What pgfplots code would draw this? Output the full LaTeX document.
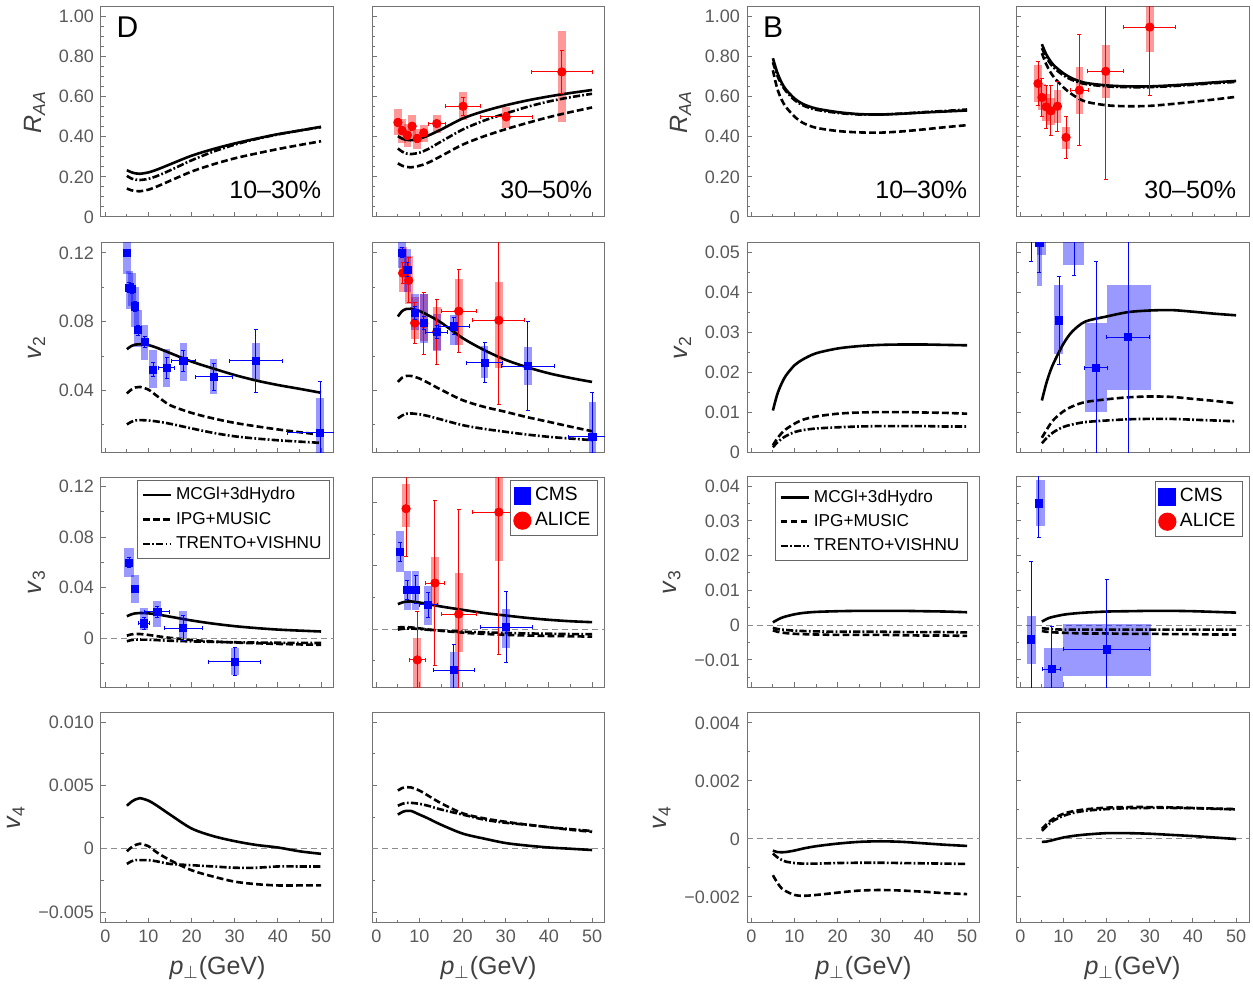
\documentclass[border=0pt]{standalone}
\usepackage{fontspec}
\setmainfont{Liberation Sans}
\usepackage{pgfplots}
\usepackage{pgfplotstable}
\pgfplotsset{compat=1.18}

\newcommand{\ticfont}{\fontsize{9}{10}\selectfont}
\newcommand{\labfont}{\fontsize{12.5}{14}\selectfont}
\newcommand{\annfont}{\fontsize{12.5}{14}\selectfont}
\newcommand{\tagfont}{\fontsize{15}{17}\selectfont}
\newcommand{\legfont}{\fontsize{8.6}{10}\selectfont}
\newcommand{\datlegfont}{\fontsize{9.6}{11}\selectfont}

% model curves: columns s = MCGl+3dHydro, d = IPG+MUSIC, c = TRENTO+VISHNU
\pgfplotstableread{
pt s d c
5 0.233 0.142 0.205
6 0.223 0.133 0.192
7 0.217 0.129 0.186
8 0.215 0.128 0.184
10 0.222 0.136 0.190
12 0.236 0.152 0.204
15 0.262 0.180 0.232
20 0.305 0.226 0.282
25 0.338 0.262 0.325
30 0.366 0.292 0.360
35 0.390 0.316 0.388
40 0.412 0.338 0.411
45 0.430 0.358 0.430
50 0.449 0.377 0.447
}\tRaaDa
\pgfplotstableread{
pt s d c
5 0.402 0.267 0.341
6 0.390 0.255 0.325
7 0.384 0.249 0.316
8 0.382 0.247 0.313
10 0.390 0.255 0.320
12 0.405 0.270 0.338
15 0.435 0.303 0.375
20 0.490 0.360 0.435
25 0.527 0.402 0.480
30 0.556 0.437 0.515
35 0.580 0.468 0.548
40 0.600 0.497 0.575
45 0.617 0.522 0.596
50 0.632 0.545 0.613
}\tRaaDb
\pgfplotstableread{
pt s d c
5 0.790 0.730 0.770
6 0.720 0.640 0.705
7 0.670 0.585 0.660
8 0.635 0.548 0.627
10 0.590 0.500 0.582
12 0.562 0.468 0.555
15 0.540 0.444 0.534
20 0.522 0.428 0.518
25 0.512 0.421 0.510
30 0.510 0.420 0.510
35 0.514 0.426 0.515
40 0.520 0.436 0.522
45 0.525 0.447 0.528
50 0.530 0.457 0.535
}\tRaaBa
\pgfplotstableread{
pt s d c
5 0.860 0.815 0.840
6 0.810 0.760 0.795
7 0.775 0.720 0.762
8 0.750 0.690 0.738
10 0.715 0.645 0.705
12 0.690 0.610 0.682
15 0.668 0.575 0.662
20 0.655 0.556 0.650
25 0.650 0.551 0.646
30 0.650 0.553 0.646
35 0.655 0.562 0.651
40 0.662 0.573 0.658
45 0.670 0.585 0.666
50 0.677 0.598 0.672
}\tRaaBb
\pgfplotstableread{
pt s d c
5 0.0640 0.0383 0.0203
6 0.0658 0.0405 0.0218
7 0.0667 0.0418 0.0226
8 0.0669 0.0421 0.0228
10 0.0664 0.0405 0.0226
12 0.0648 0.0368 0.0220
15 0.0618 0.0315 0.0207
20 0.0568 0.0270 0.0180
25 0.0528 0.0238 0.0154
30 0.0490 0.0212 0.0134
35 0.0458 0.0192 0.0121
40 0.0432 0.0174 0.0111
45 0.0410 0.0158 0.0103
50 0.0387 0.0143 0.0096
}\tVtwoDa
\pgfplotstableread{
pt s d c
5 0.0830 0.0450 0.0238
6 0.0862 0.0475 0.0255
7 0.0874 0.0485 0.0265
8 0.0875 0.0485 0.0267
10 0.0862 0.0470 0.0262
12 0.0838 0.0445 0.0252
15 0.0795 0.0405 0.0232
20 0.0705 0.0344 0.0199
25 0.0635 0.0305 0.0177
30 0.0578 0.0276 0.0160
35 0.0535 0.0245 0.0144
40 0.0500 0.0218 0.0131
45 0.0473 0.0190 0.0121
50 0.0450 0.0164 0.0112
}\tVtwoDb
\pgfplotstableread{
pt s d c
5 0.0105 0.0018 0.0013
6 0.0145 0.0035 0.0025
7 0.0172 0.0048 0.0034
8 0.0192 0.0058 0.0041
10 0.0218 0.0072 0.0051
12 0.0233 0.0082 0.0056
15 0.0248 0.0090 0.0060
20 0.0260 0.0097 0.0063
25 0.0266 0.0100 0.0065
30 0.0269 0.0101 0.0066
35 0.0270 0.0101 0.0066
40 0.0270 0.0100 0.0066
45 0.0269 0.0099 0.0065
50 0.0268 0.0097 0.0065
}\tVtwoBa
\pgfplotstableread{
pt s d c
5 0.0130 0.0037 0.0023
6 0.0172 0.0055 0.0035
7 0.0205 0.0072 0.0045
8 0.0230 0.0085 0.0053
10 0.0272 0.0103 0.0064
12 0.0302 0.0115 0.0070
15 0.0327 0.0126 0.0076
20 0.0340 0.0133 0.0080
25 0.0351 0.0138 0.0083
30 0.0355 0.0140 0.0084
35 0.0356 0.0139 0.0084
40 0.0352 0.0134 0.0082
45 0.0347 0.0129 0.0080
50 0.0343 0.0123 0.0078
}\tVtwoBb
\pgfplotstableread{
pt s d c
5 0.0175 0.0022 -0.0022
6 0.0190 0.0032 -0.0013
7 0.0198 0.0036 -0.0009
8 0.0201 0.0035 -0.0008
10 0.0198 0.0028 -0.0010
12 0.0190 0.0018 -0.0013
15 0.0172 0.0005 -0.0018
20 0.0142 -0.0012 -0.0023
25 0.0117 -0.0024 -0.0027
30 0.0097 -0.0032 -0.0030
35 0.0082 -0.0038 -0.0032
40 0.0070 -0.0043 -0.0034
45 0.0062 -0.0047 -0.0035
50 0.0055 -0.0050 -0.0036
}\tVthreeDa
\pgfplotstableread{
pt s d c
5 0.0158 0.0010 -0.0003
6 0.0168 0.0013 0.0002
7 0.0174 0.0013 0.0004
8 0.0175 0.0011 0.0004
10 0.0168 0.0005 0.0001
12 0.0158 -0.0002 -0.0004
15 0.0143 -0.0010 -0.0010
20 0.0122 -0.0022 -0.0016
25 0.0102 -0.0030 -0.0020
30 0.0086 -0.0036 -0.0024
35 0.0071 -0.0040 -0.0027
40 0.0059 -0.0043 -0.0029
45 0.0050 -0.0045 -0.0031
50 0.0044 -0.0047 -0.0032
}\tVthreeDb
\pgfplotstableread{
pt s d c
5 0.0008 -0.0015 -0.0008
6 0.0015 -0.0019 -0.0011
7 0.0021 -0.0021 -0.0013
8 0.0025 -0.0023 -0.0014
10 0.0031 -0.0025 -0.0016
12 0.0035 -0.0026 -0.0017
15 0.0038 -0.0027 -0.0018
20 0.0040 -0.0028 -0.0019
25 0.0041 -0.0028 -0.0019
30 0.0041 -0.0028 -0.0019
35 0.0041 -0.0029 -0.0020
40 0.0040 -0.0030 -0.0020
45 0.0039 -0.0030 -0.0020
50 0.0037 -0.0031 -0.0021
}\tVthreeBa
\pgfplotstableread{
pt s d c
5 0.0010 -0.0017 -0.0009
6 0.0017 -0.0019 -0.0010
7 0.0022 -0.0020 -0.0011
8 0.0025 -0.0021 -0.0012
10 0.0030 -0.0022 -0.0013
12 0.0033 -0.0023 -0.0013
15 0.0036 -0.0024 -0.0013
20 0.0039 -0.0024 -0.0013
25 0.0040 -0.0025 -0.0013
30 0.0041 -0.0025 -0.0013
35 0.0041 -0.0026 -0.0013
40 0.0040 -0.0026 -0.0013
45 0.0038 -0.0027 -0.0013
50 0.0036 -0.0027 -0.0013
}\tVthreeBb
\pgfplotstableread{
pt s d c
5 0.0034 -0.0002 -0.0012
6 0.0037 0.0001 -0.0010
7 0.0039 0.0003 -0.0009
8 0.0040 0.0004 -0.0009
10 0.0038 0.0002 -0.0009
12 0.0034 -0.0003 -0.0010
15 0.0027 -0.0009 -0.0012
20 0.0016 -0.0017 -0.0013
25 0.0010 -0.0022 -0.0014
30 0.0006 -0.0026 -0.0015
35 0.0003 -0.0028 -0.0015
40 0.0001 -0.0029 -0.0014
45 -0.0002 -0.0029 -0.0014
50 -0.0004 -0.0029 -0.0014
}\tVfourDa
\pgfplotstableread{
pt s d c
5 0.0027 0.0046 0.0034
6 0.0029 0.0048 0.00355
7 0.0030 0.00487 0.00362
8 0.0030 0.00485 0.00363
10 0.0027 0.0046 0.00355
12 0.0024 0.0042 0.0034
15 0.0019 0.0036 0.0031
20 0.0012 0.0028 0.0027
25 0.0008 0.0024 0.0023
30 0.00045 0.00213 0.00205
35 0.00025 0.0019 0.0019
40 0.0001 0.0017 0.0017
45 0.0000 0.0015 0.00155
50 -0.0001 0.00134 0.0014
}\tVfourDb
\pgfplotstableread{
pt s d c
5 -0.00040 -0.00125 -0.00050
6 -0.00045 -0.00150 -0.00063
7 -0.00046 -0.00170 -0.00072
8 -0.00045 -0.00180 -0.00078
10 -0.00040 -0.00193 -0.00083
12 -0.00033 -0.00196 -0.00085
15 -0.00025 -0.00193 -0.00085
20 -0.00016 -0.00185 -0.00083
25 -0.00010 -0.00178 -0.00082
30 -0.00008 -0.00176 -0.00082
35 -0.00010 -0.00178 -0.00083
40 -0.00015 -0.00182 -0.00084
45 -0.00020 -0.00187 -0.00085
50 -0.00024 -0.00190 -0.00086
}\tVfourBa
\pgfplotstableread{
pt s d c
5 -0.00010 0.00035 0.00028
6 -0.00009 0.00050 0.00043
7 -0.00006 0.00063 0.00056
8 -0.00002 0.00073 0.00066
10 0.00005 0.00087 0.00080
12 0.00010 0.00095 0.00089
15 0.00015 0.00102 0.00097
20 0.00020 0.00108 0.00103
25 0.00020 0.00110 0.00106
30 0.00018 0.00110 0.00107
35 0.00014 0.00109 0.00107
40 0.00010 0.00107 0.00106
45 0.00005 0.00105 0.00104
50 0.00000 0.00103 0.00102
}\tVfourBb

% measurements: x, y, x error, statistical y error
\pgfplotstableread{
x y ex ey
5.0 0.470 0 0.020
6.0 0.429 0 0.020
7.2 0.407 0 0.020
8.3 0.452 0 0.020
9.5 0.391 0 0.020
11.0 0.419 0 0.015
14.0 0.465 2.0 0.015
20.1 0.551 4.0 0.044
30.1 0.498 6.0 0.020
43.0 0.722 7.0 0.105
}\aRaaDb
\pgfplotstableread{
x y ex ey
4.1 0.664 0 0.110
5.0 0.595 0 0.094
6.0 0.548 0 0.107
7.1 0.528 0 0.124
8.6 0.551 0 0.124
10.6 0.396 0 0.105
13.7 0.631 2.1 0.275
19.8 0.725 4.2 0.540
30.0 0.945 6.0 0.340
}\aRaaBb
\pgfplotstableread{
x y ex ey
4.97 0.1200 0 0.0020
5.6 0.0997 0 0.0030
6.2 0.0991 0 0.0030
6.8 0.0889 0 0.0030
7.6 0.0750 0 0.0030
9.1 0.0682 0 0.0030
11.1 0.0522 0 0.0040
14.2 0.0531 1.8 0.0060
18.1 0.0572 2.7 0.0060
25.1 0.0479 4.3 0.0080
34.9 0.0572 6.2 0.0183
49.8 0.0154 7.5 0.0300
}\cVtwoDa
\pgfplotstableread{
x y ex ey
6.0 0.1200 0 0.0030
7.2 0.1101 0 0.0040
8.9 0.0850 0 0.0040
11.0 0.0792 0 0.0040
14.0 0.0740 2.6 0.0040
18.0 0.0773 3.6 0.0050
25.1 0.0562 4.2 0.0116
35.1 0.0541 6.2 0.0258
50.1 0.0131 5.5 0.0260
}\cVtwoDb
\pgfplotstableread{
x y ex ey
6.1 0.1082 0 0.0060
7.5 0.1040 0 0.0130
8.9 0.0792 0 0.0120
11.0 0.0790 0 0.0180
14.0 0.0740 0 0.0190
19.1 0.0861 4.1 0.0240
28.4 0.0808 6.0 0.0490
}\aVtwoDb
\pgfplotstableread{
x y ex ey
2.5 0.0600 0 0.0122
4.4 0.0523 0 0.0074
12.5 0.0580 0 0.0137
9.0 0.0330 0 0.0110
17.55 0.0212 2.6 0.0266
25.0 0.0288 5.0 0.0600
}\cVtwoBb
\pgfplotstableread{
x y ex ey
5.5 0.0597 0 0.0040
6.9 0.0389 0 0.0030
9.0 0.0119 1.3 0.0050
12.05 0.0209 2.9 0.0040
18.05 0.0082 4.4 0.0100
29.97 -0.0182 6.0 0.0110
}\cVthreeDa
\pgfplotstableread{
x y ex ey
5.5 0.0487 0 0.0060
7.2 0.0249 0 0.0060
9.1 0.0249 0 0.0090
12.0 0.0154 2.1 0.0080
18.0 -0.0258 4.7 0.0160
30.1 0.0013 6.05 0.0225
}\cVthreeDb
\pgfplotstableread{
x y ex ey
6.9 0.0760 0 0.0300
9.5 -0.0194 1.9 0.0305
13.6 0.0291 2.15 0.0520
19.1 0.0095 4.05 0.0660
28.4 0.0738 6.2 0.0900
}\aVthreeDb
\pgfplotstableread{
x y ex ey
2.5 -0.0041 0 0.0224
4.3 0.0350 0 0.0099
7.3 -0.0127 2.1 0.0124
20.0 -0.0070 10.0 0.0200
}\cVthreeBb

% systematic band: colour, x from, x to, y from, y to
\newcommand{\sysbox}[5]{\addplot[forget plot, draw=none, fill=#1, fill opacity=0.4] coordinates {(#2,#4) (#3,#4) (#3,#5) (#2,#5)};}
% the three model curves of one panel
\newcommand{\modelcurves}[2][]{%
  \addplot[mA,#1] table[x=pt,y=s]{#2};
  \addplot[mB,#1] table[x=pt,y=d]{#2};
  \addplot[mC,#1] table[x=pt,y=c]{#2};}
\newcommand{\zeroline}{\addplot[forget plot, black!45, line width=0.5pt, dash pattern=on 3pt off 2pt] coordinates {(-1,0) (53,0)};}

\pgfplotsset{
  panel/.style={
    scale only axis, width=116.5pt, height=105pt, anchor=south west,
    xmin=-1, xmax=53,
    xtick={0,10,20,30,40,50}, minor xtick={5,15,25,35,45}, xticklabels={},
    yticklabels={},
    xtick pos=left, ytick pos=left, tick align=inside,
    major tick length=2.4pt, minor tick length=1.5pt,
    axis line style={black!55, line width=0.5pt},
    tick style={black!55, line width=0.5pt},
    scaled y ticks=false, scaled x ticks=false,
    tick label style={font=\ticfont, text=black!65},
    label style={font=\labfont, text=black!75},
    clip marker paths=true,
  },
  bottomrow/.style={xticklabels={0,10,20,30,40,50}, xlabel={\textit{p}$_{\perp}$(GeV)}},
  mA/.style={black, line width=1.3pt, smooth},
  mB/.style={black, line width=1.3pt, smooth, dash pattern=on 3.4pt off 1.6pt},
  mC/.style={black, line width=1.3pt, smooth, dash pattern=on 3.6pt off 1.1pt on 0.9pt off 1.1pt},
  cms/.style={only marks, forget plot, mark=square*, mark size=1.8pt, color=blue,
    error bars/x dir=both, error bars/x explicit, error bars/y dir=both, error bars/y explicit,
    error bars/error bar style={line width=0.5pt, blue},
    error bars/error mark options={rotate=90, mark size=1pt, line width=0.5pt, blue}},
  alice/.style={only marks, forget plot, mark=*, mark size=2.1pt, color=red,
    error bars/x dir=both, error bars/x explicit, error bars/y dir=both, error bars/y explicit,
    error bars/error bar style={line width=0.5pt, red},
    error bars/error mark options={rotate=90, mark size=1pt, line width=0.5pt, red}},
  modlegend/.style={
    legend style={at={(#1)}, anchor=north east, draw=black!60, line width=0.5pt, fill=white,
      font=\legfont, text=black, inner xsep=2pt, inner ysep=1.5pt, row sep=0.6pt, cells={anchor=west}},
    legend image code/.code={\draw[##1, line width=1.3pt] (0pt,0pt) -- (14pt,0pt);}},
  datlegend/.style={
    legend style={at={(#1)}, anchor=north east, draw=black!60, line width=0.5pt, fill=white,
      font=\datlegfont, text=black, inner xsep=1.5pt, inner ysep=1.5pt, row sep=0.3pt, cells={anchor=west}}},
  rowRaa/.style={ymin=0, ymax=1.045, ytick={0,0.2,0.4,0.6,0.8,1},
    minor ytick={0.05,0.1,0.15,0.25,0.3,0.35,0.45,0.5,0.55,0.65,0.7,0.75,0.85,0.9,0.95}},
  rowVtwoD/.style={ymin=0.004, ymax=0.126, ytick={0.04,0.08,0.12}, minor ytick={0.02,0.06,0.1}},
  rowVtwoB/.style={ymin=0, ymax=0.0525, ytick={0,0.01,0.02,0.03,0.04,0.05},
    minor ytick={0.005,0.015,0.025,0.035,0.045}},
  rowVthreeDa/.style={ymin=-0.0383, ymax=0.1274, ytick={0,0.04,0.08,0.12}, minor ytick={-0.02,0.02,0.06,0.1}},
  rowVthreeDb/.style={ymin=-0.0365, ymax=0.096, ytick={0,0.04,0.08}, minor ytick={-0.02,0.02,0.06}},
  rowVthreeB/.style={ymin=-0.0178, ymax=0.0426, ytick={-0.01,0,0.01,0.02,0.03,0.04},
    minor ytick={-0.015,-0.005,0.005,0.015,0.025,0.035}},
  rowVfourD/.style={ymin=-0.00583, ymax=0.01077, ytick={-0.005,0,0.005,0.01}, minor ytick={-0.0025,0.0025,0.0075}},
  rowVfourB/.style={ymin=-0.00288, ymax=0.00436, ytick={-0.002,0,0.002,0.004}, minor ytick={-0.001,0.001,0.003}},
}

\begin{document}
\begin{tikzpicture}

%% ---------- row 1: R_AA ----------
\begin{axis}[panel, rowRaa, at={(50.5pt,385pt)},
  yticklabels={0,0.20,0.40,0.60,0.80,1.00}, ylabel={\textit{R}\textsubscript{\textit{AA}}}]
  \modelcurves{\tRaaDa}
  \node[anchor=east, font=\annfont] at (rel axis cs:0.975,0.13) {10--30\%};
  \node[font=\tagfont] at (rel axis cs:0.114,0.905) {D};
\end{axis}

\begin{axis}[panel, rowRaa, at={(186pt,385pt)}]
  \sysbox{red}{4.1}{5.9}{0.410}{0.535}
  \sysbox{red}{5.1}{6.9}{0.370}{0.490}
  \sysbox{red}{6.3}{8.1}{0.350}{0.465}
  \sysbox{red}{7.4}{9.2}{0.395}{0.510}
  \sysbox{red}{8.6}{10.4}{0.340}{0.440}
  \sysbox{red}{10.1}{11.9}{0.375}{0.460}
  \sysbox{red}{13.1}{14.9}{0.420}{0.510}
  \sysbox{red}{19.2}{21.0}{0.482}{0.623}
  \sysbox{red}{29.2}{31.0}{0.441}{0.545}
  \sysbox{red}{42.1}{43.9}{0.473}{0.924}
  \modelcurves{\tRaaDb}
  \addplot[alice] table[x=x,y=y,x error=ex,y error=ey]{\aRaaDb};
  \node[anchor=east, font=\annfont] at (rel axis cs:0.975,0.13) {30--50\%};
\end{axis}

\begin{axis}[panel, rowRaa, at={(373.5pt,385pt)},
  yticklabels={0,0.20,0.40,0.60,0.80,1.00}, ylabel={\textit{R}\textsubscript{\textit{AA}}}]
  \modelcurves{\tRaaBa}
  \node[anchor=east, font=\annfont] at (rel axis cs:0.975,0.13) {10--30\%};
  \node[font=\tagfont] at (rel axis cs:0.112,0.905) {B};
\end{axis}

\begin{axis}[panel, rowRaa, at={(508pt,385pt)}]
  \sysbox{red}{3.2}{5.0}{0.573}{0.755}
  \sysbox{red}{4.1}{5.9}{0.530}{0.660}
  \sysbox{red}{5.1}{6.9}{0.480}{0.610}
  \sysbox{red}{6.2}{8.0}{0.460}{0.590}
  \sysbox{red}{7.7}{9.5}{0.470}{0.630}
  \sysbox{red}{9.7}{11.5}{0.340}{0.450}
  \sysbox{red}{12.8}{14.6}{0.515}{0.747}
  \sysbox{red}{18.9}{20.7}{0.594}{0.855}
  \sysbox{red}{29.1}{30.9}{0.820}{1.070}
  \modelcurves{\tRaaBb}
  \addplot[alice] table[x=x,y=y,x error=ex,y error=ey]{\aRaaBb};
  \node[anchor=east, font=\annfont] at (rel axis cs:0.975,0.13) {30--50\%};
\end{axis}

%% ---------- row 2: v2 ----------
\begin{axis}[panel, rowVtwoD, at={(50.5pt,267.25pt)},
  yticklabels={0.04,0.08,0.12}, ylabel={\textit{v}\textsubscript{2}}]
  \sysbox{blue}{4.0}{5.9}{0.1078}{0.1260}
  \sysbox{blue}{4.7}{6.5}{0.0875}{0.1097}
  \sysbox{blue}{5.3}{7.1}{0.0890}{0.1080}
  \sysbox{blue}{5.9}{7.7}{0.0769}{0.1001}
  \sysbox{blue}{6.7}{8.5}{0.0653}{0.0866}
  \sysbox{blue}{8.2}{10.0}{0.0576}{0.0779}
  \sysbox{blue}{10.2}{12.0}{0.0412}{0.0634}
  \sysbox{blue}{13.3}{15.1}{0.0421}{0.0640}
  \sysbox{blue}{17.2}{19.0}{0.0456}{0.0678}
  \sysbox{blue}{24.2}{26.0}{0.0379}{0.0581}
  \sysbox{blue}{34.0}{35.8}{0.0464}{0.0676}
  \sysbox{blue}{48.9}{50.7}{-0.0100}{0.0354}
  \modelcurves{\tVtwoDa}
  \addplot[cms] table[x=x,y=y,x error=ex,y error=ey]{\cVtwoDa};
\end{axis}

\begin{axis}[panel, rowVtwoD, at={(186pt,267.25pt)}]
  \sysbox{red}{5.2}{7.0}{0.0972}{0.1233}
  \sysbox{red}{6.6}{8.4}{0.0900}{0.1180}
  \sysbox{red}{8.0}{9.8}{0.0701}{0.0943}
  \sysbox{red}{10.1}{11.9}{0.0690}{0.0962}
  \sysbox{red}{13.1}{14.9}{0.0634}{0.0885}
  \sysbox{red}{18.2}{20.0}{0.0663}{0.1050}
  \sysbox{red}{27.5}{29.3}{0.0528}{0.1028}
  \sysbox{blue}{5.1}{6.9}{0.1110}{0.1260}
  \sysbox{blue}{6.3}{8.1}{0.0972}{0.1224}
  \sysbox{blue}{8.0}{9.8}{0.0750}{0.0962}
  \sysbox{blue}{10.1}{11.9}{0.0676}{0.0962}
  \sysbox{blue}{13.1}{14.9}{0.0630}{0.0846}
  \sysbox{blue}{17.1}{18.9}{0.0663}{0.0837}
  \sysbox{blue}{24.2}{26.0}{0.0470}{0.0660}
  \sysbox{blue}{34.2}{36.0}{0.0431}{0.0653}
  \sysbox{blue}{49.2}{51.0}{-0.0100}{0.0334}
  \modelcurves{\tVtwoDb}
  \addplot[alice] table[x=x,y=y,x error=ex,y error=ey]{\aVtwoDb};
  \addplot[cms] table[x=x,y=y,x error=ex,y error=ey]{\cVtwoDb};
\end{axis}

\begin{axis}[panel, rowVtwoB, at={(373.5pt,267.25pt)},
  yticklabels={0,0.01,0.02,0.03,0.04,0.05}, ylabel={\textit{v}\textsubscript{2}}]
  \modelcurves{\tVtwoBa}
\end{axis}

\begin{axis}[panel, rowVtwoB, at={(508pt,267.25pt)}]
  \sysbox{blue}{3.85}{5.0}{0.0416}{0.0600}
  \sysbox{blue}{3.85}{6.0}{0.0493}{0.0600}
  \sysbox{blue}{10.0}{14.7}{0.0468}{0.0700}
  \sysbox{blue}{7.9}{10.0}{0.0245}{0.0418}
  \sysbox{blue}{15.0}{20.0}{0.0101}{0.0323}
  \sysbox{blue}{20.0}{30.4}{0.0157}{0.0418}
  \modelcurves{\tVtwoBb}
  \addplot[cms] table[x=x,y=y,x error=ex,y error=ey]{\cVtwoBb};
\end{axis}

%% ---------- row 3: v3 ----------
\begin{axis}[panel, rowVthreeDa, at={(50.5pt,150pt)},
  yticklabels={0,0.04,0.08,0.12}, ylabel={\textit{v}\textsubscript{3}},
  modlegend={0.983,0.986}]
  \modelcurves{\tVthreeDa}
  \addlegendentry{MCGl+3dHydro}
  \addlegendentry{IPG+MUSIC}
  \addlegendentry{TRENTO+VISHNU}
  \zeroline
  \sysbox{blue}{4.4}{6.6}{0.0483}{0.0711}
  \sysbox{blue}{6.0}{7.8}{0.0277}{0.0501}
  \sysbox{blue}{8.1}{9.9}{0.0067}{0.0244}
  \sysbox{blue}{11.1}{12.9}{0.0093}{0.0296}
  \sysbox{blue}{17.1}{18.9}{0.0000}{0.0218}
  \sysbox{blue}{29.1}{30.9}{-0.0286}{-0.0075}
  \addplot[cms] table[x=x,y=y,x error=ex,y error=ey]{\cVthreeDa};
\end{axis}

\begin{axis}[panel, rowVthreeDb, at={(186pt,150pt)}, datlegend={0.970,0.986}]
  \zeroline
  \sysbox{red}{6.0}{7.8}{0.0643}{0.0918}
  \sysbox{red}{8.6}{10.4}{-0.0500}{-0.0057}
  \sysbox{red}{12.7}{14.5}{0.0154}{0.0453}
  \sysbox{red}{18.2}{20.0}{-0.0142}{0.0354}
  \sysbox{red}{27.5}{29.3}{0.0428}{0.1100}
  \sysbox{blue}{4.6}{6.4}{0.0361}{0.0618}
  \sysbox{blue}{6.3}{8.1}{0.0122}{0.0369}
  \sysbox{blue}{8.2}{10.0}{0.0122}{0.0369}
  \sysbox{blue}{11.1}{12.9}{0.0027}{0.0270}
  \sysbox{blue}{17.1}{18.9}{-0.0400}{-0.0142}
  \sysbox{blue}{29.2}{31.0}{-0.0116}{0.0128}
  \modelcurves[forget plot]{\tVthreeDb}
  \addplot[alice] table[x=x,y=y,x error=ex,y error=ey]{\aVthreeDb};
  \addplot[cms] table[x=x,y=y,x error=ex,y error=ey]{\cVthreeDb};
  \addlegendimage{only marks, mark=square*, mark size=4.2pt, blue}
  \addlegendentry{CMS}
  \addlegendimage{only marks, mark=*, mark size=4.3pt, red}
  \addlegendentry{ALICE}
\end{axis}

\begin{axis}[panel, rowVthreeB, at={(373.5pt,150pt)},
  yticklabels={−0.01,0,0.01,0.02,0.03,0.04}, ylabel={\textit{v}\textsubscript{3}},
  modlegend={0.948,0.976}]
  \modelcurves{\tVthreeBa}
  \addlegendentry{MCGl+3dHydro}
  \addlegendentry{IPG+MUSIC}
  \addlegendentry{TRENTO+VISHNU}
  \zeroline
\end{axis}

\begin{axis}[panel, rowVthreeB, at={(508pt,150pt)}, datlegend={0.974,0.981}]
  \zeroline
  \sysbox{blue}{1.5}{3.6}{-0.0113}{0.0027}
  \sysbox{blue}{3.6}{5.8}{0.0284}{0.0416}
  \sysbox{blue}{5.6}{9.9}{-0.0200}{-0.0066}
  \sysbox{blue}{10.0}{30.4}{-0.0145}{0.0002}
  \modelcurves[forget plot]{\tVthreeBb}
  \addplot[cms] table[x=x,y=y,x error=ex,y error=ey]{\cVthreeBb};
  \addlegendimage{only marks, mark=square*, mark size=4.2pt, blue}
  \addlegendentry{CMS}
  \addlegendimage{only marks, mark=*, mark size=4.3pt, red}
  \addlegendentry{ALICE}
\end{axis}

%% ---------- row 4: v4 ----------
\begin{axis}[panel, bottomrow, rowVfourD, at={(50.5pt,32.25pt)},
  yticklabels={−0.005,0,0.005,0.010}, ylabel={\textit{v}\textsubscript{4}}]
  \zeroline
  \modelcurves{\tVfourDa}
\end{axis}

\begin{axis}[panel, bottomrow, rowVfourD, at={(186pt,32.25pt)}]
  \zeroline
  \modelcurves{\tVfourDb}
\end{axis}

\begin{axis}[panel, bottomrow, rowVfourB, at={(373.5pt,32.25pt)},
  yticklabels={−0.002,0,0.002,0.004}, ylabel={\textit{v}\textsubscript{4}}]
  \zeroline
  \modelcurves{\tVfourBa}
\end{axis}

\begin{axis}[panel, bottomrow, rowVfourB, at={(508pt,32.25pt)}]
  \zeroline
  \modelcurves{\tVfourBb}
\end{axis}

\pgfresetboundingbox
\path[use as bounding box] (0pt,0pt) rectangle (626.5pt,493.5pt);
\end{tikzpicture}
\end{document}
